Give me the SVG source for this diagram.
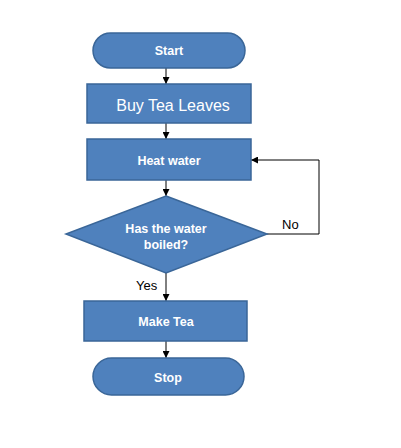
<svg xmlns="http://www.w3.org/2000/svg" width="401" height="448" viewBox="0 0 401 448">
  <defs>
    <marker id="ah" viewBox="0 0 10 10" refX="10" refY="5" markerWidth="7" markerHeight="7" markerUnits="userSpaceOnUse" orient="auto">
      <path d="M0,0 L10,5 L0,10 z" fill="#000"/>
    </marker>
    <style>
      .shape { fill: #4F81BD; stroke: #3A6698; stroke-width: 1.5; }
      .lbl { font-family: "Liberation Sans", Arial, sans-serif; font-weight: bold; font-size: 12.5px; fill: #fff; text-anchor: middle; }
      .big { font-family: "Liberation Sans", Arial, sans-serif; font-size: 16px; fill: #fff; text-anchor: middle; }
      .edge { fill: none; stroke: #000; stroke-width: 1; marker-end: url(#ah); }
      .elbl { font-family: "Liberation Sans", Arial, sans-serif; font-size: 13px; fill: #000; }
    </style>
  </defs>
  <rect width="401" height="448" fill="#fff"/>
  <g id="connectors">
    <path class="edge" d="M166,68 V84"/>
    <path class="edge" d="M166,123 V139"/>
    <path class="edge" d="M166,180 V196"/>
    <path class="edge" d="M166,273 V301"/>
    <path class="edge" d="M166,341 V358"/>
    <path class="edge" d="M267,234 H319 V160 H251"/>
    <text class="elbl" x="282" y="229">No</text>
    <text class="elbl" x="136" y="290">Yes</text>
  </g>
  <g id="start">
    <rect class="shape" x="93" y="33" width="152" height="35" rx="17.5"/>
    <text class="lbl" x="169" y="55">Start</text>
  </g>
  <g id="buy">
    <rect class="shape" x="87" y="84" width="164" height="39"/>
    <text class="big" x="173" y="111">Buy Tea Leaves</text>
  </g>
  <g id="heat">
    <rect class="shape" x="87" y="139" width="164" height="41"/>
    <text class="lbl" x="169" y="165">Heat water</text>
  </g>
  <g id="decision">
    <polygon class="shape" points="166,196 267,234 166,273 66,234"/>
    <text class="lbl" x="166" y="233">Has the water</text>
    <text class="lbl" x="166" y="249">boiled?</text>
  </g>
  <g id="make">
    <rect class="shape" x="84" y="301" width="163" height="40"/>
    <text class="lbl" x="166" y="326">Make Tea</text>
  </g>
  <g id="stop">
    <rect class="shape" x="93" y="358" width="151" height="37" rx="18.5"/>
    <text class="lbl" x="168" y="382">Stop</text>
  </g>
</svg>
